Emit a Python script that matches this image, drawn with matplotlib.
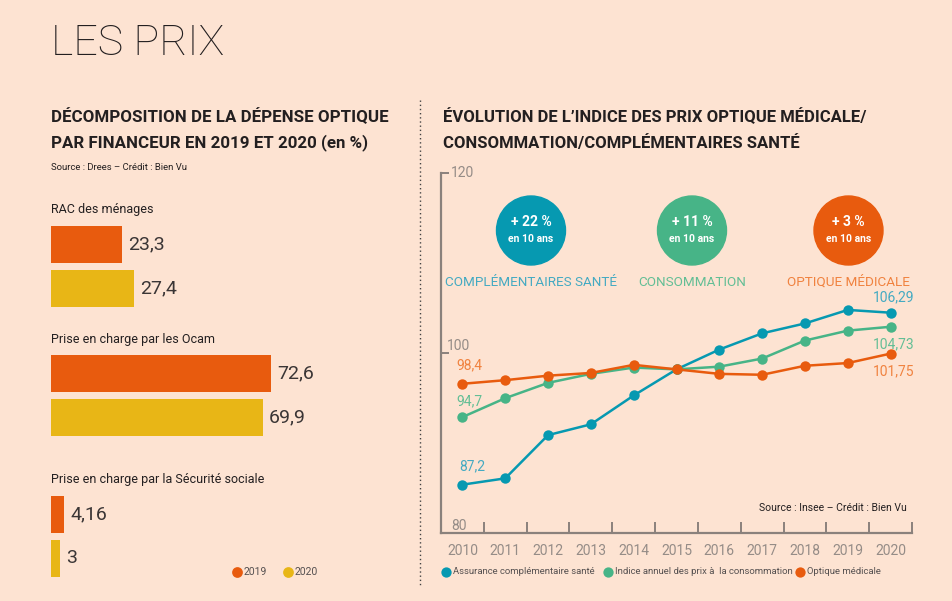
import matplotlib
matplotlib.use('Agg')
import matplotlib.pyplot as plt
from matplotlib.patches import Circle

W, H = 953, 601
BG = '#FDE3D2'
ORANGE = '#E85B0E'
YELLOW = '#E8B616'
BLUE = '#0699B1'
GREEN = '#47B487'
DARK = '#231F20'
GRAY = '#8A817C'

# ---------------- data ----------------
bar_categories = ['RAC des ménages', 'Prise en charge par les Ocam',
                  'Prise en charge par la Sécurité sociale']
bar_2019 = [23.3, 72.6, 4.16]
bar_2020 = [27.4, 69.9, 3]
bar_labels_2019 = ['23,3', '72,6', '4,16']
bar_labels_2020 = ['27,4', '69,9', '3']
bar_years = ['2019', '2020']

years = list(range(2010, 2021))
complementaire = [87.2, 87.9, 92.7, 93.9, 97.1, 100.0, 102.2, 104.0, 105.1, 106.6, 106.29]
consommation = [94.7, 96.8, 98.5, 99.5, 100.2, 100.0, 100.3, 101.2, 103.2, 104.3, 104.73]
optique = [98.4, 98.8, 99.3, 99.6, 100.5, 100.0, 99.5, 99.4, 100.4, 100.7, 101.75]
series_names = ['Assurance complémentaire santé',
                'Indice annuel des prix à  la consommation', 'Optique médicale']
y_tick_labels = ['80', '100', '120']
y_tick_values = [80, 100, 120]
bubble_values = ['+ 22 %', '+ 11 %', '+ 3 %']
bubble_names = ['COMPLÉMENTAIRES SANTÉ', 'CONSOMMATION', 'OPTIQUE MÉDICALE']

FONT = ['Roboto', 'DejaVu Sans']
plt.rcParams['font.family'] = FONT

fig = plt.figure(figsize=(W / 100, H / 100), dpi=100, facecolor=BG)

# overlay in pixel coordinates (for titles & decorations)
ov = fig.add_axes([0, 0, 1, 1], zorder=0)
ov.set_xlim(0, W)
ov.set_ylim(H, 0)
ov.axis('off')
ov.set_facecolor(BG)

def fx(px):
    return px / W

def fy(py):
    return 1 - py / H

ov.text(51, 43, 'LES PRIX', fontsize=31, fontweight='light', color=DARK,
        va='center', ha='left')

ov.text(51, 117, 'DÉCOMPOSITION DE LA DÉPENSE OPTIQUE', fontsize=12.2, fontweight='bold',
        color=DARK, va='center')
ov.text(51, 143, 'PAR FINANCEUR EN 2019 ET 2020 (en %)', fontsize=12.2, fontweight='bold',
        color=DARK, va='center')
ov.text(51, 167, 'Source : Drees – Crédit : Bien Vu', fontsize=6.8, color=DARK, va='center')

ov.text(443, 117, 'ÉVOLUTION DE L’INDICE DES PRIX OPTIQUE MÉDICALE/', fontsize=12,
        fontweight='bold', color=DARK, va='center')
ov.text(443, 143, 'CONSOMMATION/COMPLÉMENTAIRES SANTÉ', fontsize=12,
        fontweight='bold', color=DARK, va='center')

ov.plot([420, 420], [100, 585], color='#444444', lw=1, linestyle=(0, (1, 2)))

# ---------------- bar chart ----------------
axb = fig.add_axes([fx(51), fy(585), 303 / W, (585 - 195) / H])
axb.set_xlim(0, 100)
axb.set_ylim(585, 195)
axb.axis('off')
group_top = [226, 355, 496]
bar_h = 36.7
gap = 44
for i, cat in enumerate(bar_categories):
    t = group_top[i]
    axb.text(0, t - 16, cat, fontsize=9, color=DARK, va='center', ha='left')
    for j, (vals, labs, col) in enumerate([(bar_2019, bar_labels_2019, ORANGE),
                                          (bar_2020, bar_labels_2020, YELLOW)]):
        yc = t + j * gap + bar_h / 2
        axb.barh(yc, vals[i], height=bar_h, color=col, align='center')
        axb.text(vals[i] + 2.1, yc, labs[i], fontsize=14, color='#3A3535',
                 va='center', ha='left')

for k, (lab, col) in enumerate(zip(bar_years, [ORANGE, YELLOW])):
    x0 = 237 + k * 51
    ov.scatter([x0], [572], s=60, color=col, zorder=3, linewidths=0)
    ov.text(x0 + 7, 572, lab, fontsize=7.5, color='#555050', va='center')

# ---------------- line chart ----------------
OFF = 1.8  # vertical shift of printed axis graduations in the source
ax = fig.add_axes([fx(441), fy(533.3), (912 - 441) / W, (533.3 - 173) / H], zorder=2)
ax.patch.set_alpha(0)
ax.set_xlim(2009.5, 2020.5)
ax.set_ylim(80 + OFF, 120 + OFF)
for s in ['top', 'right']:
    ax.spines[s].set_visible(False)
for s in ['left', 'bottom']:
    ax.spines[s].set_color(GRAY)
    ax.spines[s].set_linewidth(1.6)

ax.set_xticks(years)
ax.set_xticklabels([str(y) for y in years])
ax.tick_params(axis='x', which='major', length=0, pad=8, labelsize=10, labelcolor='#958C87')
ax.set_xticks([y + 0.5 for y in years], minor=True)
ax.tick_params(axis='x', which='minor', direction='in', length=8, width=1.4, color=GRAY)
ax.set_yticks([v + OFF for v in y_tick_values[1:]])
ax.set_yticklabels([])
ax.tick_params(axis='y', direction='in', length=6, width=1.4, color=GRAY)

lbl_off = {'80': (10, 7), '100': (6, 7), '120': (10, 0)}
for lab, v in zip(y_tick_labels, y_tick_values):
    dx, dy = lbl_off[lab]
    ax.annotate(lab, xy=(0, v + OFF), xycoords=('axes fraction', 'data'),
                xytext=(dx, dy), textcoords='offset pixels', fontsize=10,
                color='#958C87', va='center', ha='left')

series = [(complementaire, BLUE), (consommation, GREEN), (optique, ORANGE)]
for vals, col in series:
    ax.plot(years, vals, color=col, lw=1.8, marker='o', markersize=7.5,
            markeredgewidth=0, clip_on=False)

LBLUE, LGREEN, LORANGE = '#44AAC2', '#63BE95', '#F0823F'
def fmt(v):
    return ('%g' % v).replace('.', ',')

ax.annotate(fmt(complementaire[0]), xy=(years[0], complementaire[0]), xytext=(10, 18),
            textcoords='offset pixels', fontsize=10, color=LBLUE, ha='center', va='center')
ax.annotate(fmt(consommation[0]), xy=(years[0], consommation[0]), xytext=(7, 16),
            textcoords='offset pixels', fontsize=10, color=LGREEN, ha='center', va='center')
ax.annotate(fmt(optique[0]), xy=(years[0], optique[0]), xytext=(7, 18),
            textcoords='offset pixels', fontsize=10, color=LORANGE, ha='center', va='center')
ax.annotate(fmt(complementaire[-1]), xy=(years[-1], complementaire[-1]), xytext=(3, 15),
            textcoords='offset pixels', fontsize=10, color=LBLUE, ha='center', va='center')
ax.annotate(fmt(consommation[-1]), xy=(years[-1], consommation[-1]), xytext=(3, -18),
            textcoords='offset pixels', fontsize=10, color=LGREEN, ha='center', va='center')
ax.annotate(fmt(optique[-1]), xy=(years[-1], optique[-1]), xytext=(3, -18),
            textcoords='offset pixels', fontsize=10, color=LORANGE, ha='center', va='center')

ax.text(1.0 - 5 / 471, 0.07, 'Source : Insee – Crédit : Bien Vu', transform=ax.transAxes,
        fontsize=7.5, color=DARK, ha='right', va='center')

# bubbles
bx = [531, 692, 848.5]
bcols = [BLUE, GREEN, ORANGE]
lcols = [LBLUE, LGREEN, LORANGE]
for x0, val, nm, c, lc in zip(bx, bubble_values, bubble_names, bcols, lcols):
    ov.add_patch(Circle((x0, 230.5), 34.5, color=c, zorder=3))
    ov.text(x0, 221.5, val, fontsize=10, fontweight='bold', color='white',
            ha='center', va='center', zorder=4)
    ov.text(x0, 239.5, 'en 10 ans', fontsize=7.5, fontweight='bold', color='white',
            ha='center', va='center', zorder=4)
    ov.text(x0, 282, nm, fontsize=9.7, color=lc,
            ha='center', va='center', zorder=4)

# legend of line chart
leg_x = [446, 608, 800]
for x0, nm, c in zip(leg_x, series_names, bcols):
    ov.scatter([x0], [572], s=55, color=c, linewidths=0, zorder=3)
    ov.text(x0 + 7, 572, nm, fontsize=6.8, color='#555050', va='center')

fig.savefig('out.png', dpi=100, facecolor=BG)
